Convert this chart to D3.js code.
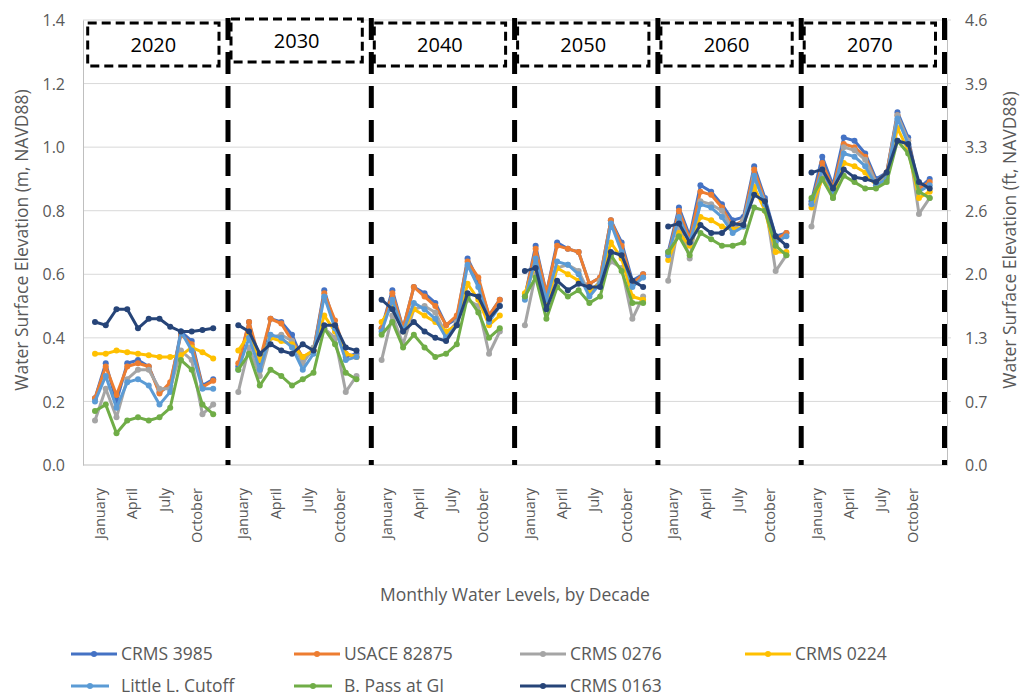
<!DOCTYPE html>
<html>
<head>
<meta charset="utf-8">
<title>Monthly Water Levels, by Decade</title>
<script src="https://d3js.org/d3.v7.min.js"></script>
<style>
  body { margin: 0; background: #fff; }
  text { font-family: "Open Sans", sans-serif; fill: #595959; }
</style>
</head>
<body>
<div id="chart"></div>
<script>

// data (metres, NAVD88), 12 months per decade
var decades = ["2020", "2030", "2040", "2050", "2060", "2070"];
var months = ["January", "February", "March", "April", "May", "June",
              "July", "August", "September", "October", "November", "December"];
var monthLabels = ["January", "April", "July", "October"];
var yTicks = [0, 0.2, 0.4, 0.6, 0.8, 1.0, 1.2, 1.4];
var seriesNames = ["CRMS 3985", "USACE 82875", "CRMS 0276", "CRMS 0224",
                   "Little L. Cutoff", "B. Pass at GI", "CRMS 0163"];

var crms3985 = [
  0.21, 0.32, 0.20, 0.32, 0.33, 0.31, 0.23, 0.25, 0.42, 0.39, 0.25, 0.27,
  0.31, 0.45, 0.31, 0.46, 0.45, 0.41, 0.33, 0.36, 0.55, 0.44, 0.34, 0.35,
  0.43, 0.55, 0.43, 0.56, 0.54, 0.51, 0.44, 0.46, 0.65, 0.58, 0.47, 0.52,
  0.53, 0.69, 0.54, 0.70, 0.68, 0.67, 0.57, 0.59, 0.77, 0.70, 0.58, 0.60,
  0.67, 0.81, 0.72, 0.88, 0.86, 0.82, 0.77, 0.78, 0.94, 0.84, 0.72, 0.73,
  0.83, 0.97, 0.88, 1.03, 1.02, 0.98, 0.90, 0.92, 1.11, 1.03, 0.87, 0.90
];
var usace82875 = [
  0.21, 0.31, 0.22, 0.31, 0.32, 0.31, 0.225, 0.26, 0.41, 0.38, 0.245, 0.265,
  0.32, 0.45, 0.33, 0.46, 0.445, 0.39, 0.34, 0.36, 0.54, 0.455, 0.35, 0.34,
  0.43, 0.54, 0.43, 0.56, 0.53, 0.50, 0.44, 0.47, 0.64, 0.59, 0.47, 0.52,
  0.53, 0.68, 0.54, 0.69, 0.68, 0.67, 0.57, 0.59, 0.77, 0.69, 0.57, 0.60,
  0.66, 0.80, 0.71, 0.86, 0.85, 0.81, 0.75, 0.77, 0.93, 0.83, 0.71, 0.73,
  0.82, 0.95, 0.87, 1.01, 1.00, 0.97, 0.89, 0.92, 1.10, 1.02, 0.87, 0.89
];
var crms0276 = [
  0.14, 0.24, 0.15, 0.27, 0.30, 0.30, 0.24, 0.24, 0.36, 0.33, 0.16, 0.19,
  0.23, 0.37, 0.28, 0.40, 0.41, 0.39, 0.32, 0.37, 0.43, 0.40, 0.23, 0.28,
  0.33, 0.47, 0.38, 0.49, 0.50, 0.48, 0.41, 0.45, 0.52, 0.50, 0.35, 0.42,
  0.44, 0.60, 0.49, 0.62, 0.63, 0.61, 0.54, 0.58, 0.64, 0.62, 0.46, 0.53,
  0.58, 0.76, 0.65, 0.83, 0.82, 0.80, 0.74, 0.77, 0.90, 0.83, 0.61, 0.66,
  0.75, 0.92, 0.84, 1.00, 0.99, 0.96, 0.89, 0.91, 1.10, 1.02, 0.79, 0.84
];
var crms0224 = [
  0.35, 0.35, 0.36, 0.355, 0.35, 0.345, 0.34, 0.34, 0.345, 0.37, 0.355, 0.335,
  0.36, 0.41, 0.33, 0.40, 0.39, 0.38, 0.34, 0.36, 0.47, 0.42, 0.35, 0.34,
  0.45, 0.50, 0.42, 0.49, 0.47, 0.45, 0.42, 0.44, 0.57, 0.52, 0.44, 0.47,
  0.54, 0.63, 0.51, 0.62, 0.60, 0.58, 0.55, 0.57, 0.70, 0.65, 0.53, 0.52,
  0.645, 0.73, 0.69, 0.78, 0.77, 0.75, 0.74, 0.75, 0.875, 0.80, 0.67, 0.67,
  0.81, 0.90, 0.85, 0.95, 0.94, 0.92, 0.88, 0.90, 1.06, 0.99, 0.84, 0.86
];
var littleLCutoff = [
  0.20, 0.28, 0.18, 0.26, 0.27, 0.25, 0.19, 0.23, 0.42, 0.36, 0.24, 0.24,
  0.30, 0.40, 0.30, 0.41, 0.40, 0.37, 0.30, 0.35, 0.53, 0.43, 0.33, 0.34,
  0.42, 0.52, 0.42, 0.51, 0.49, 0.46, 0.40, 0.44, 0.63, 0.56, 0.45, 0.50,
  0.52, 0.65, 0.52, 0.64, 0.63, 0.60, 0.53, 0.57, 0.76, 0.67, 0.56, 0.59,
  0.66, 0.78, 0.70, 0.82, 0.81, 0.78, 0.73, 0.75, 0.91, 0.82, 0.70, 0.72,
  0.82, 0.93, 0.86, 0.98, 0.97, 0.94, 0.88, 0.90, 1.09, 1.01, 0.86, 0.88
];
var bPassGI = [
  0.17, 0.19, 0.10, 0.14, 0.15, 0.14, 0.15, 0.18, 0.33, 0.30, 0.19, 0.16,
  0.30, 0.35, 0.25, 0.30, 0.28, 0.25, 0.27, 0.29, 0.43, 0.38, 0.29, 0.27,
  0.41, 0.45, 0.37, 0.41, 0.37, 0.34, 0.35, 0.38, 0.53, 0.48, 0.40, 0.43,
  0.53, 0.59, 0.46, 0.56, 0.53, 0.55, 0.51, 0.53, 0.66, 0.61, 0.51, 0.51,
  0.67, 0.72, 0.66, 0.73, 0.71, 0.69, 0.69, 0.70, 0.81, 0.80, 0.69, 0.66,
  0.84, 0.90, 0.84, 0.91, 0.89, 0.87, 0.87, 0.89, 1.02, 0.98, 0.86, 0.84
];
var crms0163 = [
  0.45, 0.44, 0.49, 0.49, 0.43, 0.46, 0.46, 0.435, 0.42, 0.42, 0.425, 0.43,
  0.44, 0.42, 0.35, 0.38, 0.36, 0.35, 0.38, 0.36, 0.44, 0.44, 0.37, 0.36,
  0.52, 0.49, 0.42, 0.45, 0.42, 0.40, 0.39, 0.44, 0.54, 0.53, 0.46, 0.50,
  0.61, 0.62, 0.49, 0.58, 0.55, 0.57, 0.56, 0.56, 0.67, 0.66, 0.58, 0.56,
  0.75, 0.76, 0.70, 0.755, 0.73, 0.73, 0.76, 0.755, 0.85, 0.83, 0.72, 0.69,
  0.92, 0.93, 0.87, 0.93, 0.905, 0.90, 0.89, 0.92, 1.02, 1.01, 0.89, 0.87
];

var seriesValues = [crms3985, usace82875, crms0276, crms0224, littleLCutoff, bPassGI, crms0163];
var colors = ["#4472c4", "#ed7d31", "#a5a5a5", "#ffc000", "#5b9bd5", "#70ad47", "#264478"];

// size and plot area
var W = 1023, H = 700;
var plot = {left: 83, right: 947, top: 20, bottom: 465};

var svg = d3.select("#chart")
  .append("svg")
  .attr("width", W)
  .attr("height", H);

// scales
var y = d3.scaleLinear().domain([0, 1.4]).range([plot.bottom, plot.top]);
var yFt = d3.scaleLinear().domain([0, 1.4 * 3.28084]).range([plot.bottom, plot.top]);

var xDecade = d3.scaleBand()
  .domain(decades)
  .range([84.7, 944.5]);
var xMonth = d3.scalePoint()
  .domain(months)
  .range([10.3, 128.5]);

function xPos(decade, month) { return xDecade(decade) + xMonth(month); }

// gridlines
svg.append("g")
  .selectAll("line")
  .data(yTicks.slice(1))
  .enter()
  .append("line")
  .attr("x1", plot.left)
  .attr("x2", plot.right + 4)
  .attr("y1", function(d) { return y(d); })
  .attr("y2", function(d) { return y(d); })
  .attr("stroke", "#d9d9d9")
  .attr("stroke-width", 1);

// left axis
var left = svg.append("g")
  .attr("transform", "translate(" + plot.left + ",0)")
  .call(d3.axisLeft(y).tickValues(yTicks).tickFormat(d3.format(".1f")).tickSize(0).tickPadding(18));
left.select(".domain").attr("stroke", "#bfbfbf");
left.selectAll("text").style("font-size", "16px").attr("fill", "#595959").attr("dy", "0.35em");

// right axis in feet
var right = svg.append("g")
  .attr("transform", "translate(" + plot.right + ",0)")
  .call(d3.axisRight(yFt).tickValues(yTicks.map(function(d) { return d * 3.28084; }))
    .tickFormat(d3.format(".1f")).tickSize(0).tickPadding(18));
right.select(".domain").attr("stroke", "#bfbfbf");
right.selectAll("text").style("font-size", "16px").attr("fill", "#595959").attr("dy", "0.35em");

// bottom axis line
svg.append("line")
  .attr("x1", plot.left).attr("x2", plot.right)
  .attr("y1", plot.bottom).attr("y2", plot.bottom)
  .attr("stroke", "#bfbfbf");

// month labels under each decade
decades.forEach(function(dec) {
  svg.append("g")
    .selectAll("text")
    .data(monthLabels)
    .enter()
    .append("text")
    .attr("transform", function(m) {
      return "translate(" + (xPos(dec, m) + 5) + "," + (plot.bottom + 23) + ")rotate(-90)";
    })
    .attr("dy", "0.35em")
    .style("text-anchor", "end")
    .style("font-size", "14.5px")
    .text(function(m) { return m; });
});

// decade separators (dashed)
svg.append("g")
  .selectAll("line")
  .data(decades)
  .enter()
  .append("line")
  .attr("x1", function(d) { return xDecade(d) + xDecade.bandwidth(); })
  .attr("x2", function(d) { return xDecade(d) + xDecade.bandwidth(); })
  .attr("y1", 18)
  .attr("y2", plot.bottom)
  .attr("stroke", "#000")
  .attr("stroke-width", 5)
  .attr("stroke-dasharray", "22,12");

// decade title boxes
var boxes = svg.append("g")
  .selectAll("g")
  .data(decades)
  .enter()
  .append("g")
  .attr("transform", function(d, i) {
    return "translate(" + (xDecade(d) + 3) + "," + (i == 1 ? 19 : 23) + ")";
  });
boxes.append("rect")
  .attr("width", xDecade.bandwidth() - 12)
  .attr("height", 43)
  .attr("fill", "#fff")
  .attr("stroke", "#000")
  .attr("stroke-width", 3)
  .attr("stroke-dasharray", "9,5");
boxes.append("text")
  .attr("x", (xDecade.bandwidth() - 12) / 2)
  .attr("y", 22)
  .attr("dy", "0.35em")
  .style("text-anchor", "middle")
  .style("font-size", "20px")
  .style("fill", "#000")
  .text(function(d) { return d; });

// series lines, one segment per decade
var line = d3.line()
  .x(function(d) { return d.x; })
  .y(function(d) { return y(d.v); });

seriesValues.forEach(function(vals, s) {
  var g = svg.append("g");
  decades.forEach(function(dec, di) {
    var pts = months.map(function(m, mi) {
      return {x: xPos(dec, m), v: vals[di * 12 + mi]};
    });
    g.append("path")
      .datum(pts)
      .attr("d", line)
      .attr("fill", "none")
      .attr("stroke", colors[s])
      .attr("stroke-width", 3)
      .attr("stroke-linejoin", "round");
    g.selectAll(null)
      .data(pts)
      .enter()
      .append("circle")
      .attr("cx", function(d) { return d.x; })
      .attr("cy", function(d) { return y(d.v); })
      .attr("r", 3)
      .attr("fill", colors[s]);
  });
});

// axis titles
svg.append("text")
  .attr("transform", "translate(22," + 240 + ")rotate(-90)")
  .attr("dy", "0.35em")
  .style("text-anchor", "middle")
  .style("font-size", "17.5px")
  .text("Water Surface Elevation (m, NAVD88)");

svg.append("text")
  .attr("transform", "translate(1010," + 240 + ")rotate(-90)")
  .attr("dy", "0.35em")
  .style("text-anchor", "middle")
  .style("font-size", "17.5px")
  .text("Water Surface Elevation (ft, NAVD88)");

svg.append("text")
  .attr("x", 515)
  .attr("y", 595)
  .attr("dy", "0.35em")
  .style("text-anchor", "middle")
  .style("font-size", "17.5px")
  .text("Monthly Water Levels, by Decade");

// legend (second row has shorter swatches, as in the original)
var legendX = [71, 294, 520, 745];
var legend = svg.append("g")
  .selectAll("g")
  .data(seriesNames)
  .enter()
  .append("g")
  .attr("transform", function(d, i) {
    return "translate(" + legendX[i % 4] + "," + (i < 4 ? 654 : 686) + ")";
  });
legend.append("line")
  .attr("x1", 0)
  .attr("x2", function(d, i) { return (i == 4 || i == 5) ? 38 : 46; })
  .attr("stroke", function(d, i) { return colors[i]; })
  .attr("stroke-width", 3);
legend.append("circle")
  .attr("cx", function(d, i) { return (i == 4 || i == 5) ? 19 : 23; })
  .attr("r", 3)
  .attr("fill", function(d, i) { return colors[i]; });
legend.append("text")
  .attr("x", function(d, i) { return (i == 4 || i == 5) ? 50 : 50; })
  .attr("dy", "0.35em")
  .style("font-size", "17.5px")
  .text(function(d) { return d; });

</script>
</body>
</html>
